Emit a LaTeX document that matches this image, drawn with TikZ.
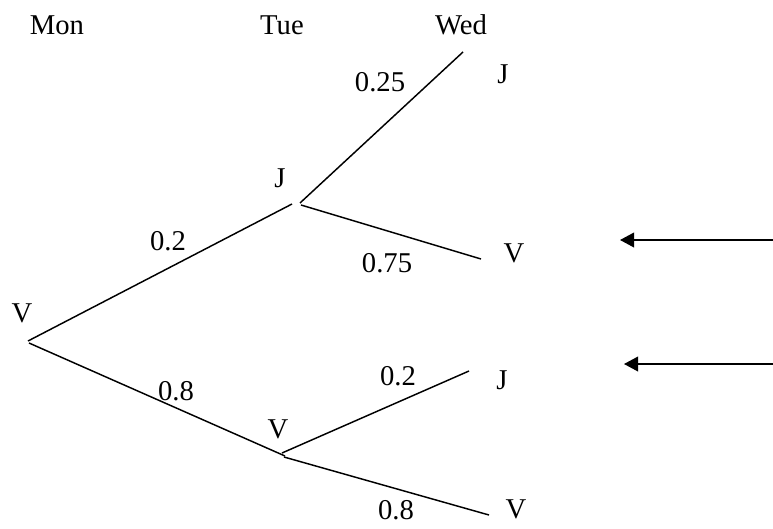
\documentclass[tikz,border=0pt]{standalone}
\usepackage{fontspec}
\setmainfont{Liberation Serif}
\usetikzlibrary{arrows.meta}
\begin{document}
\begin{tikzpicture}[x=0.75pt,y=-0.75pt,
  lbl/.style={anchor=base,inner sep=0pt,font=\fontsize{21.5}{24}\selectfont},
  branch/.style={line width=1.1pt,line cap=butt},
  pointer/.style={line width=1.1pt,-{Triangle[length=10.5pt,width=11pt]}}]
\useasboundingbox (0,0) rectangle (773,528);
% day headings
\node[lbl] (mon) at (57,35) {Mon};
\node[lbl] (tue) at (282,35) {Tue};
\node[lbl] (wed) at (461,35) {Wed};
% outcome labels
\node[lbl] (lroot) at (22,322) {V};
\node[lbl] (ltJ) at (280,187) {J};
\node[lbl] (ltV) at (278,438) {V};
\node[lbl] (lwJ1) at (503,84) {J};
\node[lbl] (lwV1) at (514,262) {V};
\node[lbl] (lwJ2) at (502,389) {J};
\node[lbl] (lwV2) at (516,518) {V};
% probability labels
\node[lbl] (p1) at (168,250) {0.2};
\node[lbl] (p2) at (176,400) {0.8};
\node[lbl] (p3) at (380,91) {0.25};
\node[lbl] (p4) at (387,272) {0.75};
\node[lbl] (p5) at (398,385) {0.2};
\node[lbl] (p6) at (396,519) {0.8};
% branch points
\coordinate (r1) at (28,341);
\coordinate (r2) at (29,343);
\coordinate (tJin) at (292,204);
\coordinate (tJa) at (300,203);
\coordinate (tJb) at (301,205);
\coordinate (tVin) at (285,456);
\coordinate (tVa) at (282,453);
\coordinate (tVb) at (284,457);
\coordinate (wJ1) at (463,52);
\coordinate (wV1) at (481,259);
\coordinate (wJ2) at (469,371);
\coordinate (wV2) at (489,515);
\draw[branch] (r1) -- (tJin);
\draw[branch] (r2) -- (tVin);
\draw[branch] (tJa) -- (wJ1);
\draw[branch] (tJb) -- (wV1);
\draw[branch] (tVa) -- (wJ2);
\draw[branch] (tVb) -- (wV2);
% pointers
\coordinate (a1s) at (773,240);
\coordinate (a1e) at (620,240);
\coordinate (a2s) at (773,364);
\coordinate (a2e) at (624,364);
\draw[pointer] (a1s) -- (a1e);
\draw[pointer] (a2s) -- (a2e);
\end{tikzpicture}
\end{document}
